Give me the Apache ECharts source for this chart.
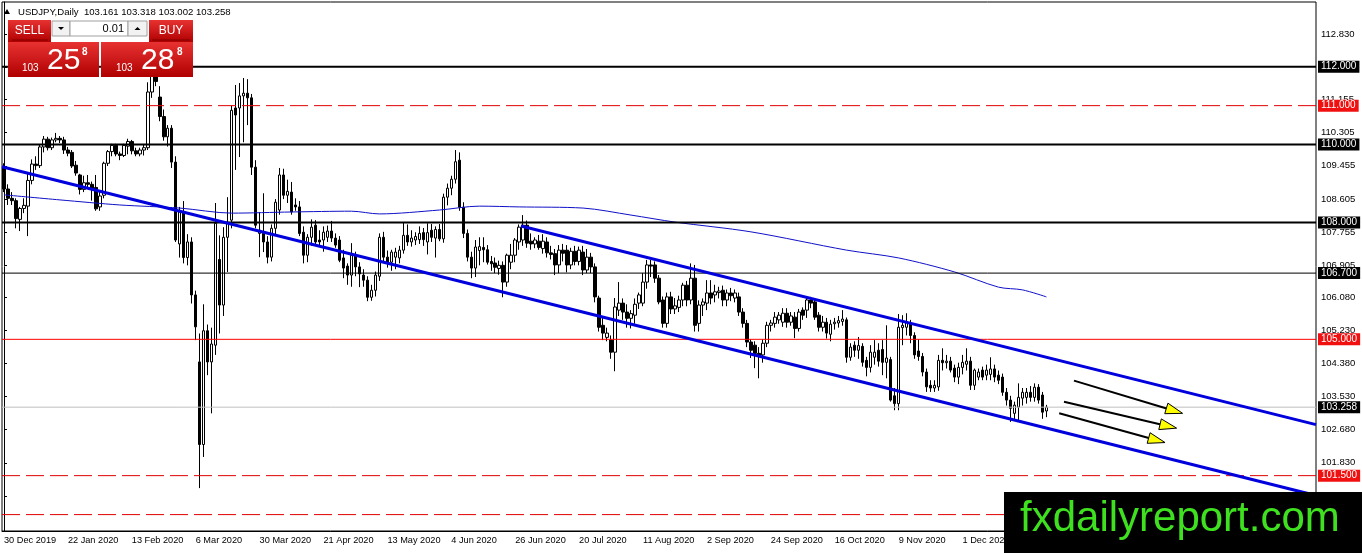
<!DOCTYPE html>
<html><head><meta charset="utf-8">
<script src="https://cdn.jsdelivr.net/npm/echarts@6/dist/echarts.min.js"></script>
<style>html,body{margin:0;padding:0;background:#fff;}#c{width:1362px;height:553px;}</style>
</head><body><div id="c"></div>
<script>
// ---------------- data ----------------
const xTickLabels = ['30 Dec 2019','22 Jan 2020','13 Feb 2020','6 Mar 2020','30 Mar 2020','21 Apr 2020',
  '13 May 2020','4 Jun 2020','26 Jun 2020','20 Jul 2020','11 Aug 2020','2 Sep 2020','24 Sep 2020',
  '16 Oct 2020','9 Nov 2020','1 Dec 2020','23 Dec 2020'];
const xTickEvery = 16;      // one date label every 16 daily bars
const slotCount = 329;      // daily slots incl. empty space right of the last bar

// daily bars [open, high, low, close], 30 Dec 2019 .. 31 Dec 2020
const ohlc = [
[109.42,109.52,108.78,108.86],[108.86,108.98,108.45,108.62],[108.62,108.78,108.45,108.56],[108.56,108.62,107.85,108.10],
[108.08,108.40,107.78,108.36],[108.36,108.62,108.24,108.44],[108.42,109.26,107.65,109.08],[109.08,109.62,108.98,109.50],
[109.50,109.70,109.35,109.46],[109.46,110.00,109.40,109.94],[109.94,110.22,109.80,110.14],[110.14,110.20,109.85,109.92],
[109.92,110.18,109.86,110.12],[110.12,110.30,110.06,110.16],[110.16,110.22,110.04,110.12],[110.12,110.20,109.76,109.86],
[109.86,109.94,109.70,109.78],[109.80,109.86,109.40,109.45],[109.47,109.58,109.20,109.27],[109.22,109.25,108.72,108.85],
[108.85,109.20,108.78,109.02],[109.02,109.22,108.86,108.98],[108.98,109.05,108.56,108.88],[108.90,109.22,108.30,108.35],
[108.40,108.80,108.30,108.68],[108.70,109.56,108.62,109.52],[109.52,109.86,109.45,109.82],[109.82,110.02,109.70,109.98],
[109.98,110.02,109.70,109.76],[109.76,109.82,109.60,109.72],[109.72,110.02,109.68,109.98],[109.96,110.15,109.75,110.08],
[110.08,110.12,109.75,109.84],[109.84,109.92,109.70,109.76],[109.76,109.92,109.70,109.86],[109.86,110.00,109.72,109.92],
[109.92,111.60,109.86,111.35],[111.35,112.22,111.20,112.08],[112.08,112.18,111.50,111.62],[111.22,111.50,110.60,110.72],
[110.72,110.90,110.10,110.20],[110.20,110.50,109.95,110.42],[110.42,110.50,109.40,109.55],[109.55,109.70,107.50,107.55],
[107.45,108.40,107.10,108.27],[108.27,108.55,106.95,107.10],[107.10,107.70,106.90,107.50],[107.50,107.62,105.92,106.14],
[106.14,106.25,104.98,105.32],[104.42,105.15,101.18,102.30],[102.30,105.90,101.98,105.22],[105.22,105.38,104.08,104.42],
[104.42,105.30,103.10,104.88],[104.85,108.50,104.60,107.98],[107.05,107.67,105.15,105.88],[105.88,107.88,105.60,107.62],
[107.62,108.65,106.73,107.98],[108.06,111.00,107.85,110.88],[110.94,111.53,109.35,110.76],[110.94,111.58,109.68,111.25],
[111.25,111.71,110.06,111.32],[111.32,111.68,110.50,111.20],[111.20,111.30,109.22,109.42],[109.42,109.60,107.85,107.93],
[107.72,108.27,107.11,107.80],[107.72,108.75,107.24,107.50],[107.50,107.65,106.95,107.11],[107.11,107.95,107.00,107.85],
[107.85,108.60,107.70,108.52],[108.32,109.40,108.20,109.22],[109.22,109.38,108.60,108.70],[108.70,109.10,108.50,108.80],
[108.78,109.04,108.20,108.27],[108.45,108.62,108.30,108.40],[108.40,108.55,107.65,107.72],[107.75,107.90,106.95,107.16],
[107.16,107.70,106.98,107.62],[107.62,108.08,107.40,107.88],[107.93,108.06,107.40,107.50],[107.55,107.80,107.40,107.50],
[107.55,107.90,107.25,107.75],[107.62,107.92,107.50,107.78],[107.78,108.04,107.50,107.60],[107.60,107.72,107.35,107.42],
[107.55,107.65,106.98,107.03],[107.09,107.30,106.57,106.83],[106.88,106.95,106.40,106.65],[106.65,107.47,106.35,107.16],
[107.16,107.25,106.62,106.86],[106.86,106.98,106.34,106.68],[106.65,106.80,106.35,106.52],[106.52,106.62,105.98,106.08],
[106.08,106.40,105.99,106.26],[106.26,106.74,106.10,106.65],[106.62,107.72,106.50,107.62],[107.62,107.76,107.00,107.11],
[107.11,107.28,106.84,106.98],[106.98,107.30,106.76,107.24],[107.11,107.35,106.80,107.24],[107.09,107.40,106.95,107.29],
[107.29,108.00,107.20,107.67],[107.67,107.95,107.40,107.50],[107.50,107.80,107.38,107.60],[107.55,107.75,107.42,107.64],
[107.56,107.90,107.45,107.72],[107.74,107.86,107.40,107.56],[107.50,107.98,107.18,107.74],[107.80,107.96,107.50,107.62],
[107.60,107.90,107.10,107.82],[107.82,107.96,107.52,107.58],[107.58,108.74,107.48,108.65],[108.65,109.00,108.44,108.88],
[108.88,109.20,108.70,109.11],[109.11,109.86,109.00,109.56],[109.60,109.80,108.30,108.39],[108.39,108.52,107.60,107.72],
[107.72,107.82,107.00,107.11],[107.11,107.25,106.57,106.83],[106.83,107.55,106.60,107.37],[107.28,107.62,106.90,107.38],
[107.36,107.62,106.98,107.30],[107.30,107.42,106.92,106.98],[107.00,107.14,106.76,106.94],[106.96,107.10,106.70,106.85],
[106.82,107.02,106.66,106.90],[106.90,107.00,106.08,106.47],[106.47,107.20,106.35,107.16],[106.98,107.45,106.80,107.16],
[107.16,107.60,106.98,107.55],[107.50,107.95,107.30,107.88],[107.55,108.19,107.40,107.93],[107.93,108.05,107.35,107.47],
[107.52,107.72,107.30,107.45],[107.45,107.62,107.34,107.55],[107.52,107.68,107.30,107.36],[107.33,107.70,107.20,107.52],
[107.50,107.62,107.10,107.22],[107.22,107.40,107.05,107.18],[107.20,107.32,106.65,106.91],[106.91,107.42,106.70,107.29],
[107.29,107.45,107.00,107.21],[107.29,107.42,106.72,106.91],[106.91,107.35,106.80,107.26],[107.26,107.40,106.90,107.00],
[107.00,107.38,106.90,107.29],[107.24,107.40,106.65,106.78],[106.78,107.32,106.70,107.11],[107.11,107.22,106.70,106.86],
[106.86,106.95,105.95,106.09],[106.06,106.12,105.20,105.31],[105.36,105.55,104.98,105.16],[105.05,105.30,104.95,105.16],
[104.98,105.10,104.50,104.67],[104.67,106.06,104.18,105.83],[105.75,106.47,105.60,105.93],[105.93,106.05,105.50,105.70],
[105.70,105.90,105.30,105.54],[105.54,105.75,105.28,105.66],[105.62,106.05,105.40,105.90],[105.93,106.20,105.78,106.14],
[105.93,106.70,105.85,106.47],[106.47,107.04,106.30,106.91],[106.91,107.04,106.60,106.88],[106.91,107.00,106.45,106.57],
[106.57,106.65,105.90,105.96],[106.01,106.10,105.30,105.41],[105.41,106.20,105.30,106.09],[106.09,106.22,105.65,105.78],
[105.78,106.06,105.65,105.86],[105.82,106.12,105.70,106.01],[106.01,106.45,105.85,106.39],[106.39,106.50,105.85,106.01],
[106.01,106.95,105.90,106.57],[106.57,106.91,105.20,105.36],[105.41,106.00,105.20,105.88],[105.88,106.05,105.60,105.96],
[105.93,106.52,105.75,106.19],[106.19,106.52,105.90,106.06],[106.14,106.40,105.95,106.22],[106.20,106.35,106.05,106.24],
[106.26,106.38,105.85,106.01],[106.01,106.28,105.85,106.19],[106.19,106.32,105.98,106.12],[106.06,106.28,105.95,106.19],
[106.09,106.20,105.60,105.70],[105.70,105.80,105.30,105.41],[105.41,105.50,104.80,104.93],[104.93,105.00,104.52,104.72],
[104.85,104.95,104.26,104.64],[104.64,104.80,104.00,104.58],[104.60,105.00,104.40,104.90],[104.90,105.45,104.80,105.36],
[105.36,105.50,105.20,105.42],[105.41,105.70,105.30,105.57],[105.50,105.70,105.40,105.62],[105.44,105.80,105.32,105.67],
[105.67,105.80,105.30,105.44],[105.44,105.70,105.35,105.60],[105.57,105.70,105.03,105.28],[105.28,105.78,105.20,105.70],
[105.75,105.82,105.50,105.62],[105.75,106.06,105.55,106.01],[106.01,106.09,105.80,105.93],[105.96,106.05,105.50,105.57],
[105.62,105.70,105.20,105.31],[105.31,105.60,105.20,105.44],[105.44,105.55,105.02,105.16],[105.13,105.50,104.95,105.39],
[105.40,105.55,105.25,105.44],[105.42,105.60,105.30,105.48],[105.46,105.75,105.35,105.52],[105.50,105.56,104.40,104.54],
[104.54,104.90,104.45,104.80],[104.85,104.95,104.55,104.72],[104.72,105.06,104.50,104.84],[104.82,104.90,104.30,104.41],
[104.46,104.55,104.05,104.28],[104.28,104.85,104.15,104.67],[104.54,104.98,104.35,104.67],[104.72,104.90,104.30,104.44],
[104.74,104.98,104.08,104.41],[104.41,105.36,104.00,104.52],[104.48,104.55,103.40,103.44],[103.55,103.75,103.18,103.35],
[103.35,105.65,103.18,105.31],[105.30,105.62,104.85,105.36],[105.31,105.67,105.10,105.44],[105.41,105.50,104.90,105.10],
[105.10,105.18,104.50,104.60],[104.70,105.00,104.45,104.56],[104.56,104.65,104.05,104.16],[104.16,104.25,103.65,103.78],
[103.82,103.95,103.65,103.75],[103.75,103.95,103.65,103.82],[103.78,104.60,103.68,104.46],[104.46,104.77,104.20,104.40],
[104.40,104.60,104.25,104.44],[104.44,104.55,104.15,104.21],[104.26,104.35,103.90,104.03],[104.03,104.40,103.85,104.28],
[104.28,104.60,104.10,104.41],[104.36,104.77,104.20,104.44],[104.44,104.55,103.70,103.82],[103.82,104.25,103.70,104.21],
[104.03,104.25,103.95,104.16],[104.21,104.30,103.95,104.03],[104.08,104.35,103.95,104.21],[104.10,104.54,103.95,104.24],
[104.24,104.35,103.90,104.03],[104.08,104.20,103.85,103.95],[104.03,104.12,103.55,103.64],[103.64,103.75,103.30,103.44],
[103.44,103.55,102.88,103.23],[103.10,103.40,102.95,103.31],[103.26,103.87,102.90,103.51],[103.49,103.75,103.30,103.64],
[103.51,103.75,103.35,103.64],[103.64,103.80,103.40,103.51],[103.51,103.87,103.40,103.77],[103.77,103.85,103.35,103.44],
[103.57,103.65,102.96,103.13],[103.161,103.318,103.002,103.258]
];

// moving average: [bar index, price]
const maPoints = [[0,108.71],[14,108.58],[29,108.45],[44,108.37],[57,108.24],[72,108.27],[87,108.29],[94,108.22],
  [109,108.32],[119,108.42],[129,108.40],[145,108.37],[157,108.19],[168,108.01],[187,107.76],[211,107.29],
  [224,107.09],[238,106.73],[249,106.34],[255,106.27],[261,106.09]];

// trend channel anchors [bar index, price]
const upperChannel = [[129.45,107.91],[328.5,102.81]];
const lowerChannel = [[-0.5,109.43],[328.5,100.99]];

// horizontal levels
const levelValues = [112, 111, 110, 108, 106.7, 105, 103.258, 101.5, 100.5];
const levelKinds  = ['major','dashRed','major','major','minor','red','current','dashRed','dashRed'];

// arrows [startBar, startPrice, tipBar, tipPrice]
const arrows = [[267.9,103.94,295.1,103.10],[265.4,103.40,293.6,102.72],[264.2,103.10,290.7,102.35]];

// right price scale ticks
const yTicks = [112.830,111.980,111.155,110.305,109.455,108.605,107.755,106.905,106.080,105.230,104.380,103.530,102.680,101.830,100.980];
const yMin = 100.079, yMax = 113.661;

const header = 'USDJPY,Daily  103.161 103.318 103.002 103.258';
const lotSize = '0.01';
const sellQuote = ['103','25','8'];
const buyQuote  = ['103','28','8'];
const watermark = 'fxdailyreport.com';

// ---------------- chart ----------------
const FONT = '"Liberation Sans", Arial, sans-serif';
const chart = echarts.init(document.getElementById('c'));
const slots = Array.from({length: slotCount}, (_, i) => String(i));
const candleData = ohlc.map(r => [r[0], r[3], r[2], r[1]]);
const isTick = i => i % xTickEvery === 0 && (i / xTickEvery) < xTickLabels.length;

const kindStyle = {
  major:   {color:'#000000', width:2, dash:null, bg:'#000'},
  minor:   {color:'#000000', width:1, dash:null, bg:'#000'},
  red:     {color:'#ff0000', width:1, dash:null, bg:'#f01010'},
  dashRed: {color:'#e00000', width:1, dash:[18,6], bg:'#f01010'},
  current: {color:'#c0c0c0', width:1, dash:null, bg:'#000'}
};
const levelSeries = levelValues.map((v, k) => {
  const s = kindStyle[levelKinds[k]];
  return {
    type:'line', xAxisIndex:1, z:3, silent:true, showSymbol:false, animation:false,
    data:[[-0.5, v], [slotCount - 0.5, v]],
    lineStyle:{color:s.color, width:s.width, type: s.dash ? s.dash.slice() : 'solid'},
    endLabel:{show:true, distance:2, formatter: v.toFixed(3), color:'#fff', backgroundColor:s.bg,
      padding:[1,3,0,3], lineHeight:11, fontSize:10, fontFamily:FONT}
  };
});

const red = () => new echarts.graphic.LinearGradient(0,0,0,1,[{offset:0,color:'#e83232'},{offset:1,color:'#b00000'}]);
const T = (text, x, y, font, extra) => Object.assign({type:'text', z:101,
  style:Object.assign({text, x, y, fill:'#fff', font: font + ' ' + FONT, verticalAlign:'middle'}, extra || {})});

const graphics = [
  {type:'polygon', z:100, shape:{points:[[4,14],[10,14],[7,9]]}, style:{fill:'#000'}},
  T(header, 18, 12, '9.6px', {fill:'#000'}),
  {type:'rect', z:100, shape:{x:8,y:20,width:43,height:22}, style:{fill:red()}},
  {type:'line', z:101, shape:{x1:12,y1:40,x2:48,y2:40}, style:{stroke:'#800000',lineWidth:1}},
  T('SELL', 29.5, 31, '12px', {align:'center'}),
  {type:'rect', z:100, shape:{x:52,y:21,width:18,height:15}, style:{fill:'#f2f2f2',stroke:'#a0a0a0'}},
  {type:'polygon', z:101, shape:{points:[[58,27],[64,27],[61,30]]}, style:{fill:'#000'}},
  {type:'rect', z:100, shape:{x:70,y:21,width:58,height:15}, style:{fill:'#fff',stroke:'#a0a0a0'}},
  T(lotSize, 124, 28.5, '11px', {fill:'#000', align:'right'}),
  {type:'rect', z:100, shape:{x:128,y:21,width:19,height:15}, style:{fill:'#f2f2f2',stroke:'#a0a0a0'}},
  {type:'polygon', z:101, shape:{points:[[134.5,30],[140.5,30],[137.5,27]]}, style:{fill:'#000'}},
  {type:'rect', z:100, shape:{x:149,y:20,width:44,height:22}, style:{fill:red()}},
  {type:'line', z:101, shape:{x1:152,y1:40,x2:190,y2:40}, style:{stroke:'#800000',lineWidth:1}},
  T('BUY', 171, 31, '12px', {align:'center'}),
  {type:'rect', z:100, shape:{x:8,y:42,width:91,height:35}, style:{fill:red()}},
  {type:'rect', z:100, shape:{x:101,y:42,width:92,height:35}, style:{fill:red()}},
  T(sellQuote[0], 22, 68.5, '10px'),
  T(sellQuote[1], 47, 61, '30px'),
  T(sellQuote[2], 82, 52, 'bold 10px'),
  T(buyQuote[0], 116, 68.5, '10px'),
  T(buyQuote[1], 141, 61, '30px'),
  T(buyQuote[2], 177, 52, 'bold 10px'),
  {type:'rect', z:100, shape:{x:1004,y:492,width:358,height:61}, style:{fill:'#000'}},
  T(watermark, 1020, 519, '42px', {fill:'#3fe01f'})
];

const option = {
  animation: false,
  backgroundColor: '#fff',
  grid: {left:2, right:46, top:2, bottom:22, show:true, borderColor:'#000', borderWidth:1},
  xAxis: [{
    type:'category', data:slots, boundaryGap:true,
    axisLine:{lineStyle:{color:'#000'}},
    axisTick:{interval:(i)=>isTick(i), alignWithLabel:true, length:4, lineStyle:{color:'#000'}},
    axisLabel:{interval:(i)=>isTick(i), formatter:(v,i)=>xTickLabels[i / xTickEvery] || '', align:'left',
      color:'#000', fontSize:9.2, fontFamily:FONT, margin:5, padding:[0,0,0,0]},
    splitLine:{show:false}
  },{
    type:'value', min:-0.5, max:slotCount-0.5, show:false
  }],
  yAxis: {
    type:'value', position:'right', min:yMin, max:yMax, scale:true,
    splitLine:{show:false},
    axisLine:{show:true, lineStyle:{color:'#000'}},
    axisTick:{show:true, length:3, customValues:yTicks, lineStyle:{color:'#000'}},
    axisLabel:{customValues:yTicks, formatter:(v)=>v.toFixed(3), color:'#000', fontSize:9.5, fontFamily:FONT, margin:5}
  },
  graphic: graphics,
  series: [
    {type:'candlestick', xAxisIndex:0, data:candleData, barWidth:3, z:2,
      itemStyle:{color:'#fff', color0:'#000', borderColor:'#000', borderColor0:'#000', borderWidth:1}},
    {type:'line', xAxisIndex:1, data:maPoints, smooth:0.3, showSymbol:false, z:3,
      lineStyle:{color:'#1010c8', width:1}}
  ].concat(levelSeries).concat([
    {type:'line', xAxisIndex:1, data:upperChannel, showSymbol:false, z:4, lineStyle:{color:'#0000dd', width:3}},
    {type:'line', xAxisIndex:1, data:lowerChannel, showSymbol:false, z:4, lineStyle:{color:'#0000dd', width:3}},
    {type:'custom', xAxisIndex:1, data:arrows, z:5, encode:{x:[0,2], y:[1,3]},
      renderItem:function(params, api){
        const p1 = api.coord([api.value(0), api.value(1)]);
        const p2 = api.coord([api.value(2), api.value(3)]);
        const dx = p2[0]-p1[0], dy = p2[1]-p1[1], len = Math.hypot(dx,dy);
        const ux = dx/len, uy = dy/len, hl = 17, hw = 5.5;
        const bx = p2[0]-ux*hl, by = p2[1]-uy*hl;
        return {type:'group', children:[
          {type:'line', shape:{x1:p1[0],y1:p1[1],x2:bx+ux*2,y2:by+uy*2}, style:{stroke:'#000', lineWidth:2}},
          {type:'polygon', shape:{points:[[p2[0],p2[1]],[bx-uy*hw,by+ux*hw],[bx+uy*hw,by-ux*hw]]},
            style:{fill:'#ffff00', stroke:'#000', lineWidth:1}}
        ]};
      }}
  ])
};
chart.setOption(option);
</script>
</body></html>
